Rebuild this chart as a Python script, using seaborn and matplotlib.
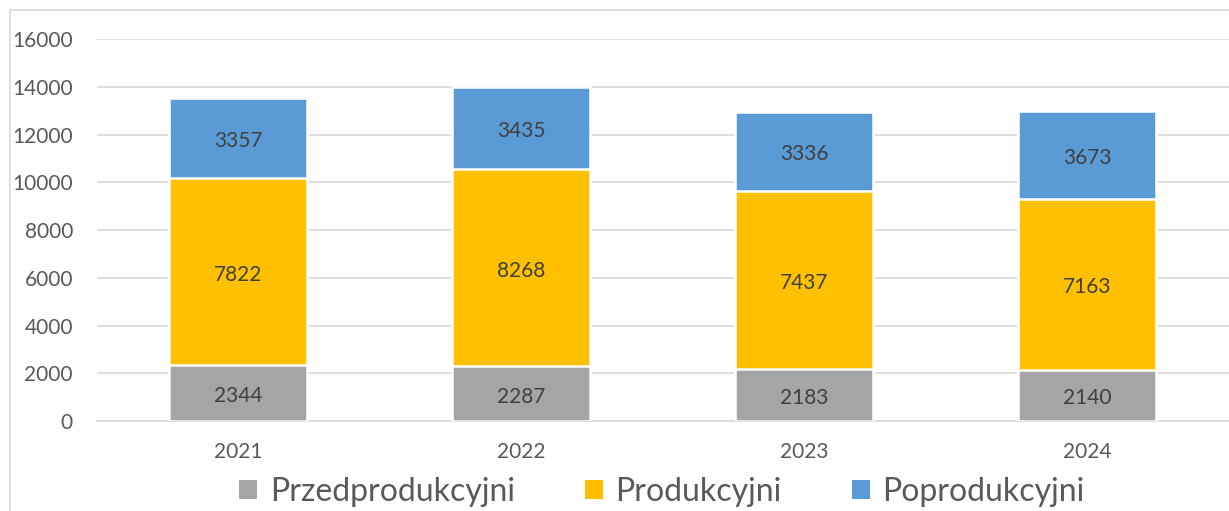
import matplotlib
matplotlib.use('Agg')
import matplotlib.pyplot as plt
import seaborn as sns
import numpy as np
from matplotlib.patches import Patch, Rectangle

# ============================================
# DATA
# ============================================
years = ['2021', '2022', '2023', '2024']
przed = [2344, 2287, 2183, 2140]
prod = [7822, 8268, 7437, 7163]
poprod = [3357, 3435, 3336, 3673]
series_names = ['Przedprodukcyjni', 'Produkcyjni', 'Poprodukcyjni']
colors = ['#A5A5A5', '#FFC000', '#5B9BD5']

sns.set_style('white')
plt.rcParams['font.family'] = ['Lato', 'DejaVu Sans']

# cumulative tops for stacking
lvl1 = np.array(przed)
lvl2 = lvl1 + np.array(prod)
lvl3 = lvl2 + np.array(poprod)

fig = plt.figure(figsize=(12.29, 5.11), dpi=100)
ax = fig.add_axes([96.5 / 1229, 90 / 511, 1132 / 1229, 382 / 511])

# draw tallest first, shorter layers on top
for tops, c in zip([lvl3, lvl2, lvl1], [colors[2], colors[1], colors[0]]):
    sns.barplot(x=years, y=tops, color=c, width=0.49, edgecolor='white',
                linewidth=1.8, saturation=1, ax=ax, zorder=3)

# segment labels (slightly below centre, like Excel)
for i in range(len(years)):
    for bottom, val in [(0, przed[i]), (lvl1[i], prod[i]), (lvl2[i], poprod[i])]:
        ax.text(i, bottom + val / 2 - 120, str(val), ha='center', va='center',
                fontsize=15, color='#404040', zorder=5)

ax.set_ylim(0, 16000)
ax.set_xlim(-0.5, 3.5)
ax.set_yticks(range(0, 16001, 2000))
ax.yaxis.grid(True, color='#D9D9D9', linewidth=1.2, zorder=0)
ax.set_axisbelow(True)
for s in ['top', 'right', 'left']:
    ax.spines[s].set_visible(False)
ax.spines['bottom'].set_color('#D9D9D9')
ax.spines['bottom'].set_linewidth(1.2)
ax.tick_params(axis='both', length=0, labelsize=15, colors='#595959')
ax.tick_params(axis='y', pad=17)
ax.tick_params(axis='x', pad=15)
ax.set_xlabel('')
ax.set_ylabel('')

# legend at bottom
handles = [Patch(facecolor=c, edgecolor='none') for c in colors]
fig.legend(handles, series_names, loc='center', ncol=3,
           bbox_to_anchor=(662 / 1229, 19 / 511), frameon=False,
           fontsize=23, handlelength=0.55, handleheight=0.55,
           handletextpad=0.4, columnspacing=2.2, labelcolor='#595959',
           borderpad=0.1)

# outer chart frame
fig.patches.append(Rectangle((10 / 1229, -0.2), 1.2, 0.2 + 501 / 511,
                             transform=fig.transFigure, fill=False,
                             edgecolor='#D9D9D9', linewidth=1.2))

fig.savefig('out.png', dpi=100)
